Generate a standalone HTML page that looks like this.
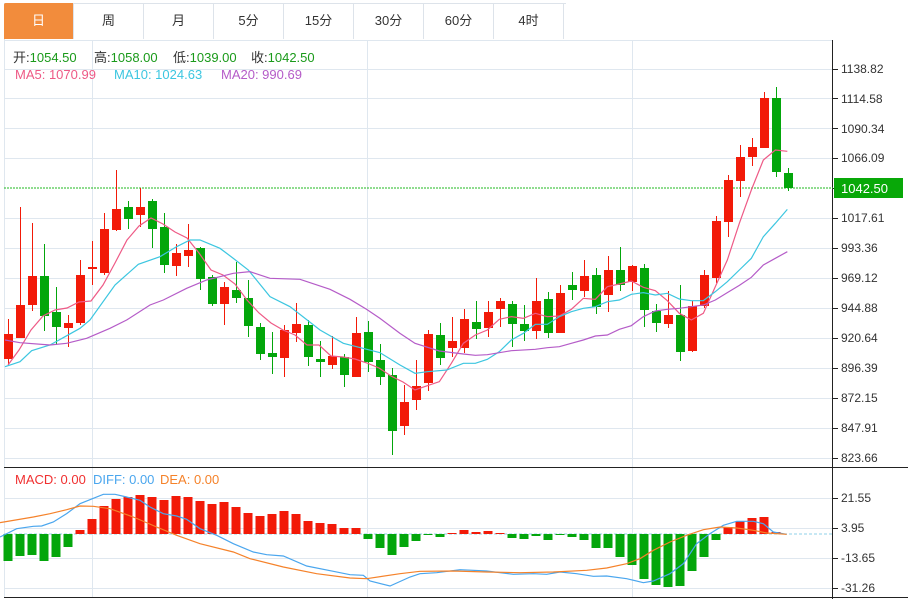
<!DOCTYPE html>
<html><head><meta charset="utf-8">
<style>
html,body{margin:0;padding:0;background:#fff;}
body{width:908px;height:599px;overflow:hidden;position:relative;font-family:"Liberation Sans","Noto Sans CJK SC",sans-serif;}
.tabs{position:absolute;left:4px;top:3px;height:36px;}
.tab{position:absolute;top:0;height:36px;width:70px;line-height:36px;text-align:center;font-size:13px;color:#333;border-right:1px solid #dde3ea;box-sizing:border-box;}
.tab.on{background:#f28c3c;color:#fff;border-radius:2px 0 0 0;}
svg{position:absolute;left:0;top:0;}
</style></head><body>
<div style="position:absolute;left:4px;top:3px;width:561px;height:36px;border-top:1px solid #dde3ea;border-bottom:1px solid #dde3ea;border-left:1px solid #dde3ea;"></div>
<div class="tabs">
<div class="tab on" style="left:0">日</div>
<div class="tab" style="left:70px">周</div>
<div class="tab" style="left:140px">月</div>
<div class="tab" style="left:210px">5分</div>
<div class="tab" style="left:280px">15分</div>
<div class="tab" style="left:350px">30分</div>
<div class="tab" style="left:420px">60分</div>
<div class="tab" style="left:490px">4时</div>
</div>
<svg id="s" width="908" height="599" xmlns="http://www.w3.org/2000/svg" font-family="Liberation Sans, Noto Sans CJK SC, sans-serif">
<g stroke="#dfe7ef" stroke-width="1" id="grid"></g>
<line x1="4.5" y1="40" x2="4.5" y2="598" stroke="#dfe7ef"/>
<line x1="4" y1="40.5" x2="833" y2="40.5" stroke="#dfe7ef"/>
<line x1="832.5" y1="40" x2="832.5" y2="599" stroke="#222"/>
<line x1="4" y1="467.5" x2="908" y2="467.5" stroke="#222"/>
<line x1="4" y1="597.5" x2="908" y2="597.5" stroke="#222"/>
<line x1="4" y1="188" x2="833" y2="188" stroke="#1fb81f" stroke-dasharray="2,1"/>
<line x1="4" y1="534" x2="833" y2="534" stroke="#8fd0ea" stroke-dasharray="3,2"/>
<g id="mb"></g>
<g id="cd"></g>
<g id="ln" fill="none" stroke-width="1.2"></g>
<g font-size="12" fill="#333" id="ax">
<text x="841" y="73">1138.82</text>
<text x="841" y="103">1114.58</text>
<text x="841" y="133">1090.34</text>
<text x="841" y="162">1066.09</text>
<text x="841" y="222">1017.61</text>
<text x="841" y="252">993.36</text>
<text x="841" y="282">969.12</text>
<text x="841" y="312">944.88</text>
<text x="841" y="342">920.64</text>
<text x="841" y="372">896.39</text>
<text x="841" y="402">872.15</text>
<text x="841" y="432">847.91</text>
<text x="841" y="462">823.66</text>
<text x="841" y="502">21.55</text>
<text x="841" y="532">3.95</text>
<text x="841" y="562">-13.65</text>
<text x="841" y="592">-31.26</text>
</g>
<rect x="834" y="178" width="69" height="20" fill="#08a808"/>
<text x="841" y="193" font-size="13" fill="#fff">1042.50</text>
<g font-size="13">
<text x="13" y="62" fill="#333">开:<tspan fill="#1a9a1a">1054.50</tspan></text>
<text x="94" y="62" fill="#333">高:<tspan fill="#1a9a1a">1058.00</tspan></text>
<text x="173" y="62" fill="#333">低:<tspan fill="#1a9a1a">1039.00</tspan></text>
<text x="251" y="62" fill="#333">收:<tspan fill="#1a9a1a">1042.50</tspan></text>
<text x="15" y="79" fill="#ee5a86">MA5: 1070.99</text>
<text x="114" y="79" fill="#3cc6e0">MA10: 1024.63</text>
<text x="221" y="79" fill="#b55cc8">MA20: 990.69</text>
<text x="15" y="484" fill="#f03030">MACD: 0.00</text>
<text x="93" y="484" fill="#4aa6ee">DIFF: 0.00</text>
<text x="160" y="484" fill="#f5822a">DEA: 0.00</text>
</g>
</svg>
<script>
var NS="http://www.w3.org/2000/svg";
function el(p,t,a){var e=document.createElementNS(NS,t);for(var k in a)e.setAttribute(k,a[k]);document.getElementById(p).appendChild(e);return e;}
[69,98,128,158,218,248,278,308,338,368,398,428,458,498,528,558,588].forEach(function(y){el("grid","line",{x1:4,x2:833,y1:y+.5,y2:y+.5});el("grid","line",{x1:833,x2:838,y1:y+.5,y2:y+.5,stroke:"#222"});});
el("grid","line",{x1:833,x2:838,y1:188.5,y2:188.5,stroke:"#222"});
[92,367,632].forEach(function(x){el("grid","line",{x1:x+.5,x2:x+.5,y1:40,y2:598});});
// [color, bodyTop, bodyBottom, wickTop, wickBottom]
var C=[
["r",334,359,319,365],["r",305,338,207,338],["r",276,305,223,311],["g",276,316,244,331],["g",312,327,287,345],
["r",323,328,315,347],["r",275,323,260,325],["r",267,269,241,285],["r",229,273,213,275],["r",209,230,170,231],
["g",207,219,201,229],["r",207,215,188,227],["g",201,229,199,248],["g",227,265,213,273],["r",253,266,244,276],
["r",250,256,224,267],["g",248,279,247,290],["g",277,304,275,306],["r",287,304,282,325],["g",290,298,262,303],
["g",298,326,280,337],["g",327,354,323,360],["g",353,357,332,374],["r",330,358,325,377],["r",324,333,303,342],
["g",325,357,320,366],["g",359,362,341,377],["r",356,365,336,369],["g",357,375,354,387],["r",333,377,317,377],
["g",332,362,321,372],["g",360,377,344,385],["g",375,431,368,455],["r",402,426,385,435],["r",386,400,360,410],
["r",334,383,330,391],["g",335,358,323,365],["r",341,348,317,357],["r",319,348,309,353],["g",322,329,301,339],
["r",312,328,301,337],["r",301,309,298,327],["g",304,324,301,347],["g",324,331,305,341],["r",301,331,278,339],
["g",299,333,292,338],["r",293,333,285,333],["g",285,290,272,300],["r",276,291,260,297],["g",275,307,268,314],
["r",270,295,256,312],["g",270,285,247,291],["r",266,282,265,291],["g",268,310,264,327],["g",311,323,304,332],
["r",315,324,291,328],["g",315,352,285,361],["r",306,351,301,352],["r",275,306,270,308],["r",221,278,216,283],
["r",180,222,175,237],["r",157,181,145,197],["r",147,157,138,166],["r",98,148,92,148],["g",98,172,87,177],
["g",173,188,168,191]];
var RC="#f21a08",GC="#03a60b";
C.forEach(function(c,i){var x=8+i*12,col=c[0]=="r"?RC:GC;
el("cd","line",{x1:x+.5,x2:x+.5,y1:c[3],y2:c[4],stroke:col});
el("cd","rect",{x:x-4,y:c[1],width:9,height:Math.max(1.5,c[2]-c[1]),fill:col});});
// MACD bars (top/bottom y)
var M=[561,556,555,561,557,547,530,519,506,499,497,495,497,500,496,497,501,504,502,507,513,516,514,511,514,521,523,524,528,528,539,548,555,547,541,535,537,533,530,532,531,533,538,539,536,540,534,537,540,548,548,557,565,579,585,587,586,571,557,540,527,521,518,517,532];
M.forEach(function(v,i){var x=8+i*12,col=v<534?RC:GC;var y=Math.min(v,534),h=Math.abs(v-534);if(h<1)h=1;
el("mb","rect",{x:x-4.5,y:y,width:9,height:h,fill:col});});
function pl(pts,col){el("ln","polyline",{points:pts.map(function(p){return p[0]+","+p[1]}).join(" "),stroke:col});}
function z2(a){return a.map(function(p){return [p[0]/3,160+p[1]/3]});}
function z3(a){return a.map(function(p){return [400+p[0]/3,80+p[1]/3]});}
var ma5=[[8,365],[19,350],[31,330],[43,316],[55,310],[67,308],[79,302],[91,301],[103,285],[115,263],[127,240],[139,226],[151,218],[163,224],[175,232],[187,238],[199,253],[211,270],[223,275],[235,284],[247,300],[259,313],[271,323],[283,330],[295,335],[307,345],[319,345],[331,356],[343,357],[355,359],[367,363],[379,368],[391,376],[403,382],[415,390]].concat(z3([[82,917],[118,905],[154,850],[190,790],[226,765],[262,750],[298,718],[334,710],[370,715],[406,700],[442,710],[478,708],[514,688],[550,655],[586,658],[622,620],[658,612],[694,603],[730,622],[766,632],[802,662],[838,700],[874,720],[910,700],[946,620],[982,540],[1018,430],[1054,330],[1090,240],[1126,210],[1162,214]]));
pl(ma5,"#ee5a86");
var ma10=z2([[15,620],[60,605],[95,572],[150,555],[195,530],[240,505],[270,480],[345,375],[415,313],[480,290],[530,260],[570,240],[600,240],[660,265],[700,295],[745,330],[810,410],[870,440],[960,510],[1030,550],[1140,578],[1200,615]]).concat(z3([[45,880],[82,875],[140,870],[190,850],[226,850],[262,838],[298,815],[334,780],[370,760],[406,733],[442,733],[478,710],[514,695],[550,685],[586,680],[622,665],[658,660],[694,643],[730,638],[766,645],[802,640],[838,657],[874,662],[910,662],[946,635],[982,605],[1018,570],[1054,535],[1090,470],[1126,430],[1162,388]]));
pl(ma10,"#3cc6e0");
var ma20=z2([[15,540],[60,548],[150,555],[200,550],[260,535],[330,505],[380,480],[450,435],[490,420],[560,385],[620,360],[700,340],[750,335],[810,355],[900,358],[990,388],[1050,418],[1100,448],[1140,475],[1200,520]]).concat(z3([[45,790],[118,813],[190,822],[226,826],[262,824],[334,812],[406,808],[442,803],[478,800],[514,790],[550,780],[586,768],[622,765],[658,748],[694,737],[730,710],[766,693],[802,688],[838,685],[874,680],[910,675],[946,660],[982,638],[1018,616],[1054,592],[1090,555],[1126,535],[1162,515]]));
pl(ma20,"#b55cc8");
function m4(a){return a.map(function(p){return [p[0]/3,462+p[1]/3]});}
function m5(a){return a.map(function(p){return [420+p[0]/3,462+p[1]/3]});}
pl(m4([[0,225],[50,200],[100,193],[125,192],[160,180],[200,155],[240,125],[310,97],[345,97],[380,105],[420,115],[450,135],[490,155],[530,162],[560,172],[600,200],[650,220],[700,245],[760,270],[800,278],[850,282],[920,312],[1000,328],[1050,338],[1090,340],[1110,357],[1170,372],[1230,345],[1260,335]]).concat(m5([[50,332],[120,323],[200,327],[280,337],[340,335],[380,337],[420,330],[470,335],[520,343],[560,342],[620,350],[670,362],[700,357],[750,335],[790,305],[830,245],[870,215],[910,190],[950,178],[1000,178],[1030,185],[1060,210],[1100,217]])),"#4aa6ee");
pl(m4([[0,182],[100,165],[150,155],[200,143],[240,132],[280,133],[330,140],[400,165],[470,195],[530,220],[600,245],[700,270],[750,290],[850,315],[950,335],[1050,348],[1100,350],[1200,335],[1260,328]]).concat(m5([[100,327],[200,330],[300,332],[400,330],[500,325],[560,318],[620,305],[660,290],[700,265],[750,240],[800,220],[850,203],[900,195],[950,198],[1000,205],[1040,213],[1100,217]])),"#f5822a");
</script>
</body></html>
